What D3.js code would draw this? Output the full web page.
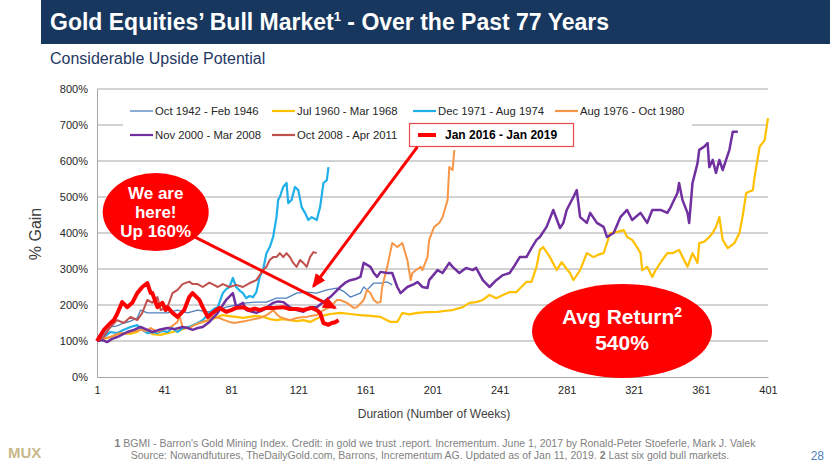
<!DOCTYPE html>
<html><head><meta charset="utf-8">
<script src="https://cdn.jsdelivr.net/npm/d3@7"></script>
<style>body{margin:0;background:#fff;} svg{display:block;font-family:"Liberation Sans",Arial,sans-serif;}</style>
</head><body><svg id="c" width="830" height="467"></svg>
<script>
// ---- data (week, % of start) ----
const seriesNames = ["Oct 1942 - Feb 1946","Jul 1960 - Mar 1968","Dec 1971 - Aug 1974","Aug 1976 - Oct 1980","Nov 2000 - Mar 2008","Oct 2008 - Apr 2011","Jan 2016 - Jan 2019"];
const seriesColors = ["#4f81bd","#ffc000","#1fb0ea","#f79646","#7030a0","#c0504d","#ff0000"];
const seriesWidths = [1.3,2.2,2.2,2,2.5,2,4];

const s1942 = [[1,100],[5,118],[9,139],[13,142],[17,150],[21,155],[25,164],[27,186],[31,178],[37,178],[43,178],[49,186],[55,178],[61,186],[67,181],[73,186],[78,194],[84,200],[90,206],[96,208],[102,208],[108,219],[114,219],[120,233],[126,236],[132,233],[138,242],[144,247],[148,238],[152,222],[158,233],[160,250],[162,242],[166,261],[170,261],[174,264],[177,256]];
const s1960 = [[1,100],[5,106],[9,111],[13,118],[17,122],[21,120],[25,125],[28,136],[31,128],[34,119],[39,117],[43,122],[46,125],[51,131],[56,139],[60,147],[64,153],[68,158],[73,167],[76,172],[80,169],[84,167],[88,164],[92,167],[96,170],[100,167],[104,161],[108,158],[112,161],[116,158],[120,155],[124,158],[128,153],[131,160],[134,167],[137,172],[140,175],[146,178],[152,175],[158,172],[164,170],[170,167],[173,160],[176,153],[180,153],[183,178],[187,174],[192,178],[198,180],[204,181],[209,184],[213,186],[219,194],[223,206],[227,208],[231,214],[235,228],[239,219],[243,228],[247,236],[251,236],[254,250],[257,264],[260,264],[263,306],[265,353],[267,361],[271,333],[275,297],[278,319],[281,300],[283,289],[285,269],[289,297],[293,344],[297,333],[300,340],[303,344],[307,400],[311,403],[315,408],[317,389],[320,381],[323,360],[325,344],[326,297],[329,306],[332,278],[334,297],[338,325],[341,344],[344,344],[348,353],[351,325],[353,306],[356,344],[359,317],[360,372],[363,376],[366,389],[368,400],[370,417],[372,444],[374,381],[377,358],[381,372],[384,400],[386,450],[388,511],[390,515],[392,519],[393,556],[396,639],[399,658],[401,719]];
const s1971 = [[1,100],[5,111],[9,125],[13,122],[17,131],[21,139],[25,144],[28,131],[31,122],[34,125],[37,122],[40,128],[43,125],[46,136],[49,125],[52,136],[56,139],[61,150],[64,158],[68,178],[71,190],[73,194],[76,233],[78,244],[80,250],[82,275],[84,250],[86,240],[88,233],[90,219],[92,225],[94,222],[96,236],[98,278],[100,297],[102,344],[104,361],[106,389],[108,444],[109,492],[110,500],[112,528],[114,539],[115,483],[117,492],[119,528],[121,519],[123,472],[125,456],[127,436],[129,444],[132,436],[134,472],[136,539],[138,547],[139,583]];
const s1976 = [[1,100],[5,106],[9,111],[12,118],[15,122],[18,120],[21,125],[24,128],[27,131],[30,128],[33,136],[35,131],[37,125],[41,133],[45,139],[49,153],[50,172],[52,139],[56,136],[59,144],[62,150],[67,158],[70,167],[74,164],[77,158],[80,153],[83,150],[86,153],[89,155],[92,158],[95,161],[98,164],[102,172],[104,178],[106,186],[108,175],[110,167],[113,162],[116,158],[120,164],[123,166],[126,167],[129,170],[132,172],[136,186],[140,194],[144,214],[146,214],[150,206],[154,192],[156,194],[160,214],[162,242],[164,233],[166,214],[168,206],[170,208],[171,250],[174,306],[177,372],[180,361],[183,372],[186,325],[188,269],[189,289],[192,300],[194,306],[195,297],[198,333],[199,381],[202,417],[205,428],[207,444],[210,492],[211,583],[213,575],[214,631],[215,636]];
const s2000 = [[1,100],[4,103],[7,97],[10,106],[13,111],[16,118],[19,125],[23,131],[27,139],[31,131],[34,125],[38,131],[43,136],[47,133],[52,139],[55,136],[58,131],[61,136],[64,139],[68,153],[73,178],[76,200],[78,214],[82,233],[84,194],[88,206],[90,186],[93,182],[96,178],[100,186],[103,196],[106,206],[109,210],[112,208],[116,194],[120,186],[124,181],[128,194],[132,194],[136,208],[140,222],[143,236],[146,250],[149,262],[152,269],[155,272],[158,278],[160,317],[164,306],[166,289],[168,278],[170,292],[174,289],[177,289],[180,250],[182,233],[186,250],[190,258],[192,264],[195,250],[198,247],[199,269],[204,297],[207,289],[211,317],[213,306],[217,289],[221,303],[225,297],[227,303],[231,269],[235,250],[239,269],[243,283],[247,289],[250,310],[253,333],[257,333],[260,358],[263,381],[265,389],[269,417],[273,464],[277,414],[279,428],[281,464],[285,500],[287,519],[289,444],[293,428],[295,456],[299,428],[303,417],[305,389],[309,400],[313,444],[317,464],[320,436],[325,456],[329,428],[332,464],[337,464],[341,456],[343,472],[347,511],[348,539],[350,492],[353,456],[354,428],[356,539],[359,594],[360,631],[363,640],[365,650],[366,583],[368,603],[370,567],[372,603],[374,575],[376,603],[378,631],[380,681],[383,681]];
const s2008 = [[1,100],[5,111],[9,139],[13,158],[17,150],[21,167],[25,158],[28,178],[31,214],[34,206],[37,222],[39,186],[43,194],[46,233],[49,242],[52,258],[56,265],[58,258],[61,258],[64,250],[68,262],[71,255],[73,250],[76,258],[80,250],[84,256],[88,250],[92,261],[96,269],[100,297],[102,306],[104,325],[106,333],[108,333],[110,344],[112,333],[114,344],[116,333],[118,317],[120,306],[122,325],[124,317],[126,306],[128,333],[130,347],[132,344]];
const s2016 = [[1,100],[5,130],[9,150],[11,158],[13,175],[16,208],[19,194],[22,206],[25,233],[28,250],[31,261],[33,233],[34,233],[37,194],[40,206],[42,186],[43,194],[46,178],[49,167],[53,186],[56,222],[58,233],[62,214],[64,194],[67,167],[70,178],[74,192],[78,181],[81,186],[84,192],[88,194],[92,186],[95,190],[98,186],[102,192],[107,192],[112,194],[116,189],[120,189],[124,186],[129,192],[132,186],[134,178],[136,150],[139,145],[141,150],[143,152],[145,158]];
const seriesData = [s1942,s1960,s1971,s1976,s2000,s2008,s2016];

const yTicks = [0,100,200,300,400,500,600,700,800];
const xTicks = [1,41,81,121,161,201,241,281,321,361,401];

// ---- layout ----
const svg = d3.select("#c");
const W = 830, H = 467;
const plot = {l:97, r:768, t:89, b:377};
const x = d3.scaleLinear().domain([1,401]).range([plot.l, plot.r]);
const y = d3.scaleLinear().domain([0,800]).range([plot.b, plot.t]);

// title bar
svg.append("rect").attr("x",41).attr("y",0).attr("width",W-41).attr("height",44).attr("fill","#17375e");
const tt = svg.append("text").attr("x",50).attr("y",30).attr("fill","#fff").attr("font-size",23).attr("font-weight","bold");
tt.append("tspan").text("Gold Equities’ Bull Market");
tt.append("tspan").attr("font-size",13).attr("dy",-9).text("1");
tt.append("tspan").attr("dy",9).text(" - Over the Past 77 Years");
svg.append("text").attr("x",50).attr("y",64).attr("fill","#1f3864").attr("font-size",16).text("Considerable Upside Potential");

// gridlines
svg.append("g").selectAll("line").data(yTicks.filter(d=>d>0)).join("line")
  .attr("x1",plot.l).attr("x2",plot.r).attr("y1",d=>y(d)).attr("y2",d=>y(d))
  .attr("stroke","#a6a6a6").attr("stroke-width",1);

// axes
const yAxis = d3.axisLeft(y).tickValues(yTicks).tickFormat(d=>d+"%").tickSize(0).tickPadding(9);
const gy = svg.append("g").attr("transform",`translate(${plot.l},0)`).call(yAxis);
gy.select(".domain").attr("stroke","#a6a6a6");
gy.selectAll("text").attr("font-size",11).attr("fill","#262626").attr("font-family","Liberation Sans, Arial, sans-serif");
const xAxis = d3.axisBottom(x).tickValues(xTicks).tickSize(0).tickPadding(9);
const gx = svg.append("g").attr("transform",`translate(0,${plot.b})`).call(xAxis);
gx.select(".domain").attr("stroke","#a6a6a6");
gx.selectAll("text").attr("font-size",11).attr("fill","#262626").attr("font-family","Liberation Sans, Arial, sans-serif");

svg.append("text").attr("transform",`translate(41,234) rotate(-90)`).attr("text-anchor","middle")
  .attr("font-size",16).attr("fill","#404040").text("% Gain");
svg.append("text").attr("x",434).attr("y",418).attr("text-anchor","middle").attr("font-size",12).attr("fill","#404040")
  .text("Duration  (Number of Weeks)");

// series
const line = d3.line().x(d=>x(d[0])).y(d=>y(d[1])).curve(d3.curveLinear);
svg.append("g").selectAll("path").data(seriesData).join("path")
  .attr("d",line).attr("fill","none")
  .attr("stroke",(d,i)=>seriesColors[i]).attr("stroke-width",(d,i)=>seriesWidths[i])
  .attr("stroke-linejoin","round");

// legend
const leg = svg.append("g");
leg.append("rect").attr("x",123).attr("y",90).attr("width",569).attr("height",60).attr("fill","#fff");
const legPos = [[130,111],[272,111],[413,111],[555,111],[130,135],[272,135],[418,135]];
seriesNames.forEach((n,i)=>{
  const [lx,ly] = legPos[i];
  if(i===6){
    leg.append("rect").attr("x",409.5).attr("y",123.5).attr("width",164).attr("height",23).attr("fill","#fff").attr("stroke","#e8494b").attr("stroke-width",1.2);
    leg.append("line").attr("x1",lx).attr("x2",lx+18).attr("y1",ly).attr("y2",ly).attr("stroke",seriesColors[i]).attr("stroke-width",4);
    leg.append("text").attr("x",lx+27).attr("y",ly+4).attr("font-size",12).attr("font-weight","bold").attr("fill","#000").text(n);
  } else {
    leg.append("line").attr("x1",lx).attr("x2",lx+23).attr("y1",ly).attr("y2",ly).attr("stroke",seriesColors[i]).attr("stroke-width",i===0?1.3:2.2);
    leg.append("text").attr("x",lx+25).attr("y",ly+4).attr("font-size",11.3).attr("fill","#262626").text(n);
  }
});

// annotations (positioned in data space)
const defs = svg.append("defs");
defs.append("marker").attr("id","ah").attr("viewBox","0 0 14 12").attr("refX",12).attr("refY",6)
  .attr("markerWidth",14).attr("markerHeight",12).attr("markerUnits","userSpaceOnUse").attr("orient","auto")
  .append("path").attr("d","M0,0 L14,6 L0,12 Z").attr("fill","#ff0000");
const arrows = [[[58,392],[143,192]],[[192,639],[130,252]]];
svg.append("g").selectAll("line").data(arrows).join("line")
  .attr("x1",d=>x(d[0][0])).attr("y1",d=>y(d[0][1])).attr("x2",d=>x(d[1][0])).attr("y2",d=>y(d[1][1]))
  .attr("stroke","#ff0000").attr("stroke-width",3).attr("marker-end","url(#ah)");

// ellipse 1
svg.append("ellipse").attr("cx",x(36)).attr("cy",y(458)).attr("rx",53).attr("ry",39).attr("fill","#ff0000");
const e1 = svg.append("text").attr("text-anchor","middle").attr("fill","#fff").attr("font-size",17).attr("font-weight","bold");
["We are","here!","Up 160%"].forEach((t,i)=>e1.append("tspan").attr("x",x(36)).attr("y",y(458)-13+i*19).text(t));

// ellipse 2
svg.append("ellipse").attr("cx",x(314)).attr("cy",y(128)).attr("rx",90).attr("ry",47).attr("fill","#ff0000");
const e2 = svg.append("text").attr("text-anchor","middle").attr("fill","#fff").attr("font-size",21).attr("font-weight","bold");
e2.append("tspan").attr("x",x(314)).attr("y",y(128)-7).text("Avg Return");
e2.append("tspan").attr("font-size",14).attr("dy",-7).text("2");
svg.append("text").attr("x",x(314)).attr("y",y(128)+19).attr("text-anchor","middle").attr("fill","#fff").attr("font-size",21).attr("font-weight","bold").text("540%");

// footer
svg.append("text").attr("x",8).attr("y",458).attr("font-size",15).attr("font-weight","bold").attr("fill","#c8b98c").text("MUX");
const f1 = svg.append("text").attr("x",435).attr("y",447).attr("text-anchor","middle").attr("font-size",10.5).attr("fill","#7f7f7f");
f1.append("tspan").attr("font-weight","bold").text("1");
f1.append("tspan").text(" BGMI - Barron's Gold Mining Index. Credit: in gold we trust .report. Incrementum. June 1, 2017 by Ronald-Peter Stoeferle, Mark J. Valek");
const f2 = svg.append("text").attr("x",430).attr("y",459).attr("text-anchor","middle").attr("font-size",10.5).attr("fill","#7f7f7f");
f2.append("tspan").text("Source: Nowandfutures, TheDailyGold.com, Barrons, Incrementum AG. Updated as of Jan 11, 2019. ");
f2.append("tspan").attr("font-weight","bold").text("2");
f2.append("tspan").text(" Last six gold bull markets.");
svg.append("text").attr("x",824).attr("y",460).attr("text-anchor","end").attr("font-size",12).attr("fill","#4f81bd").text("28");
</script>
</body></html>
